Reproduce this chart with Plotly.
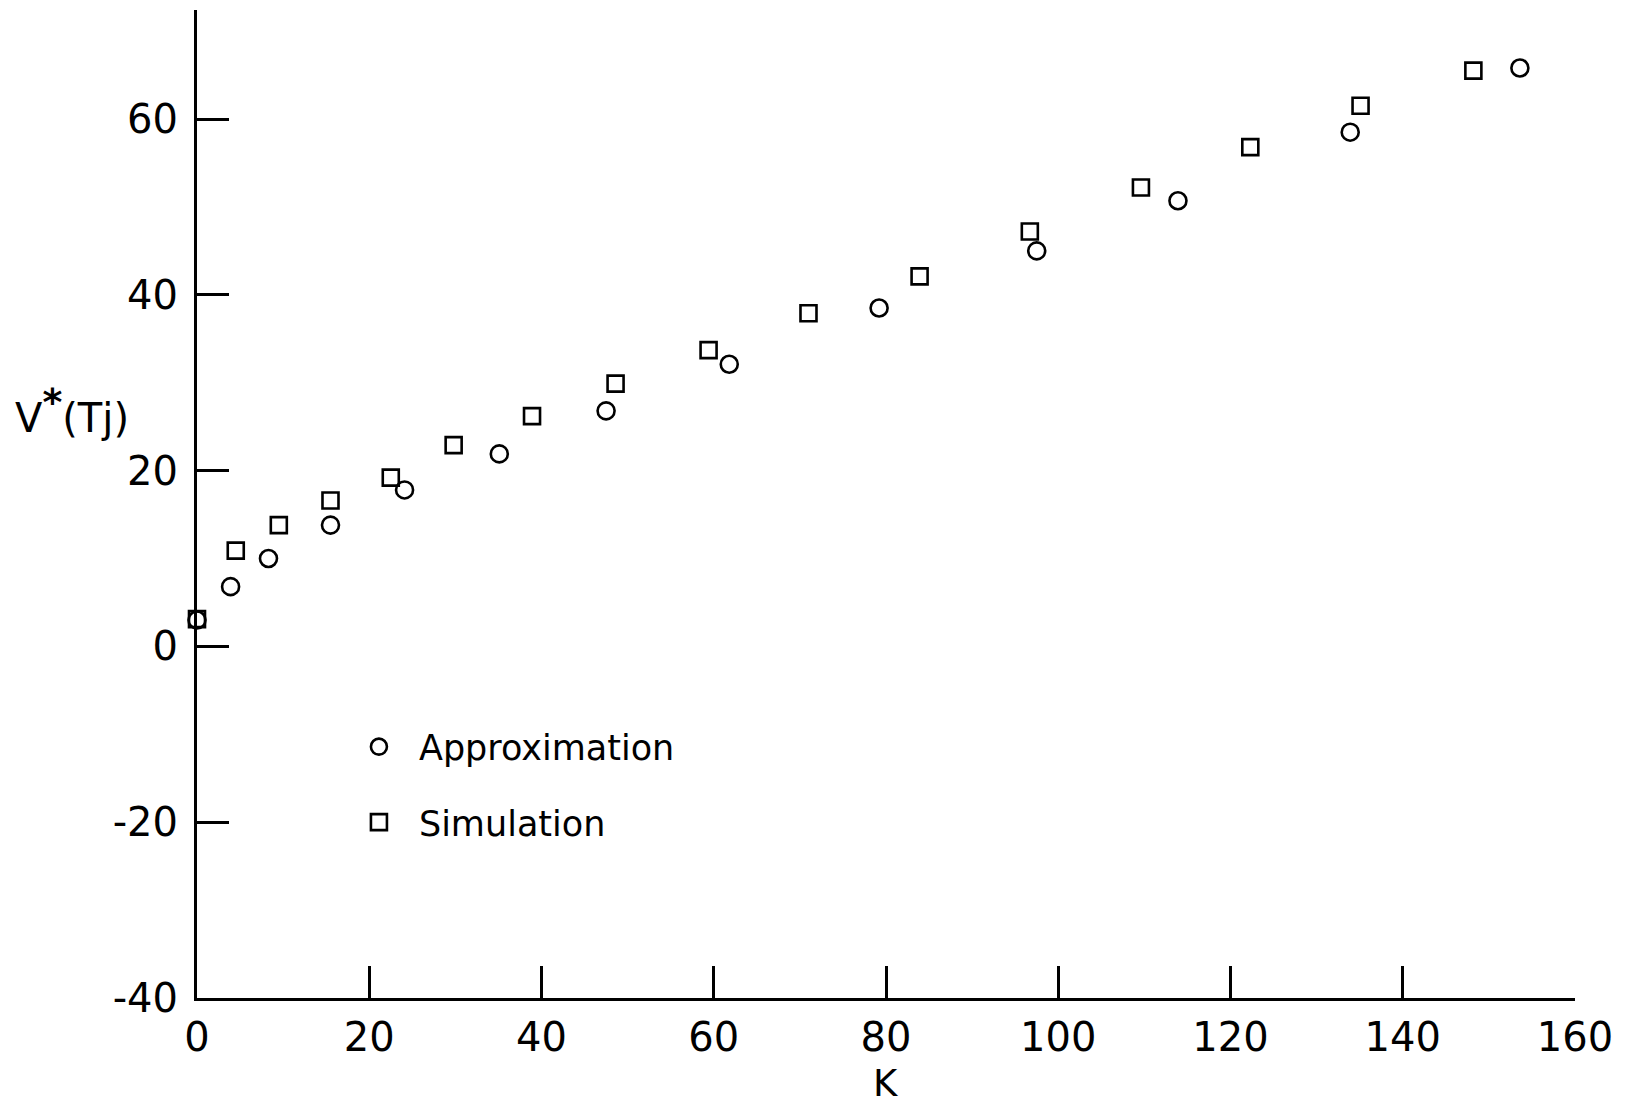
import plotly.graph_objects as go

# Approximation series (open circles)
approx_k = [0, 3.9, 8.3, 15.5, 24.1, 35.1, 47.5, 61.8, 79.2, 97.5, 113.9, 133.9, 153.6]
approx_v = [3.0, 6.8, 10.0, 13.8, 17.8, 21.9, 26.8, 32.1, 38.5, 45.0, 50.7, 58.5, 65.8]

# Simulation series (open squares)
sim_k = [0, 4.5, 9.5, 15.5, 22.5, 29.8, 38.9, 48.6, 59.4, 71.0, 83.9, 96.7, 109.6, 122.3, 135.1, 148.2]
sim_v = [3.1, 10.9, 13.8, 16.6, 19.2, 22.9, 26.2, 29.9, 33.7, 37.9, 42.1, 47.2, 52.2, 56.8, 61.5, 65.5]

x_ticks = [0, 20, 40, 60, 80, 100, 120, 140, 160]
y_ticks = [-40, -20, 0, 20, 40, 60]

FONT = "DejaVu Sans"

fig = go.Figure()
fig.add_trace(go.Scatter(
    x=approx_k, y=approx_v, mode="markers", name="Approximation",
    legendgroup="a", cliponaxis=False,
    marker=dict(symbol="circle-open", size=17, color="black", line=dict(width=2.6, color="black")),
))
fig.add_trace(go.Scatter(
    x=sim_k, y=sim_v, mode="markers", name="Simulation",
    legendgroup="b", cliponaxis=False,
    marker=dict(symbol="square-open", size=16, color="black", line=dict(width=2.6, color="black")),
))

axis_common = dict(
    showline=True, linecolor="black", linewidth=3,
    ticks="inside", ticklen=32, tickwidth=3, tickcolor="black",
    showgrid=False, zeroline=False,
    tickfont=dict(family=FONT, size=40, color="black"),
)

fig.update_xaxes(range=[0, 160], tickvals=x_ticks, ticktext=[str(v) for v in x_ticks],
                 ticklabelstandoff=2, **axis_common)
fig.update_yaxes(range=[-40, 72.4], tickvals=y_ticks, ticktext=[str(v) for v in y_ticks],
                 ticklabelstandoff=8, **axis_common)

fig.add_annotation(text="V<sup><span style='font-size:38px'><b>*</b></span></sup>(Tj)",
                   xref="paper", yref="paper",
                   x=-0.0907, y=0.595, xanchor="center", yanchor="middle",
                   showarrow=False, font=dict(family=FONT, size=40, color="black"))
fig.add_annotation(text="K", xref="paper", yref="paper",
                   x=0.5, y=-0.087, xanchor="center", yanchor="middle",
                   showarrow=False, font=dict(family=FONT, size=37, color="black"))

fig.update_layout(
    width=1627, height=1108,
    margin=dict(l=197, r=52, t=10, b=110),
    paper_bgcolor="white", plot_bgcolor="white",
    showlegend=True,
    legend=dict(x=0.103, y=0.284, xanchor="left", yanchor="top",
                font=dict(family=FONT, size=35, color="black"),
                bgcolor="rgba(0,0,0,0)", tracegroupgap=27, itemwidth=70),
)

fig.write_html("out.html")
